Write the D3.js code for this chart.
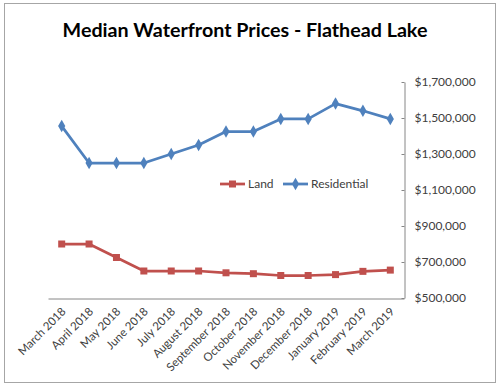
<!DOCTYPE html>
<html>
<head>
<meta charset="utf-8">
<script src="https://cdn.jsdelivr.net/npm/d3@7"></script>
<style>
  body { margin: 0; background: #fff; }
  text { font-family: Lato, "Open Sans", sans-serif; }
</style>
</head>
<body>
<script>
// months on the x axis
var months = ["March 2018", "April 2018", "May 2018", "June 2018", "July 2018",
  "August 2018", "September 2018", "October 2018", "November 2018",
  "December 2018", "January 2019", "February 2019", "March 2019"];

// median prices
var land = [800000, 800000, 725000, 650000, 650000, 650000, 640000,
  635000, 625000, 625000, 630000, 648000, 655000];
var residential = [1455000, 1250000, 1250000, 1250000, 1300000, 1350000, 1425000,
  1425000, 1495000, 1495000, 1580000, 1540000, 1495000];

var yTicks = [500000, 700000, 900000, 1100000, 1300000, 1500000, 1700000];

var width = 502,
    height = 389;

var svg = d3.select("body").append("svg")
    .attr("width", width)
    .attr("height", height);

// chart frame
svg.append("rect")
    .attr("x", 4.5).attr("y", 3.5)
    .attr("width", 491).attr("height", 379)
    .attr("fill", "#fff")
    .attr("stroke", "#a6a6a6");

svg.append("text")
    .attr("x", 245).attr("y", 37)
    .attr("text-anchor", "middle")
    .style("font-size", "19.7px")
    .style("font-weight", "bold")
    .attr("fill", "#000")
    .text("Median Waterfront Prices - Flathead Lake");

var x = d3.scaleBand()
    .domain(months)
    .range([48, 404]);

var y = d3.scaleLinear()
    .domain([500000, 1700000])
    .range([298, 82]);

var fmt = function(d) { return "$" + d3.format(",")(d); };

// right value axis
var yAxis = svg.append("g")
    .attr("transform", "translate(404.5,0)")
    .call(d3.axisRight(y).tickValues(yTicks).tickFormat(fmt).tickSize(0).tickPadding(10));
yAxis.select(".domain").attr("stroke", "#868686");
yAxis.selectAll("text")
    .attr("fill", "#404040")
    .style("font-size", "12px");
yAxis.selectAll(".tick").append("line")
    .attr("x1", -3).attr("x2", 0)
    .attr("stroke", "#868686");

// bottom category axis
var xAxis = svg.append("g")
    .attr("transform", "translate(0,298.5)")
    .call(d3.axisBottom(x).tickSize(0).tickPadding(0));
xAxis.select(".domain").attr("stroke", "#868686");
xAxis.selectAll("text")
    .attr("fill", "#404040")
    .style("font-size", "11.5px")
    .attr("text-anchor", "end")
    .attr("dy", "0.35em")
    .attr("transform", "translate(2,11) rotate(-45)");

var line = d3.line()
    .x(function(d, i) { return x(months[i]) + x.bandwidth() / 2; })
    .y(function(d) { return y(d); });

var landColor = "#c0504d",
    resColor = "#4f81bd";

// Land series
svg.append("path")
    .datum(land)
    .attr("d", line)
    .attr("fill", "none")
    .attr("stroke", landColor)
    .attr("stroke-width", 2.75)
    .attr("stroke-linejoin", "round");
svg.selectAll(".land-pt")
    .data(land)
  .enter().append("rect")
    .attr("class", "land-pt")
    .attr("x", function(d, i) { return x(months[i]) + x.bandwidth() / 2 - 3.5; })
    .attr("y", function(d) { return y(d) - 3.5; })
    .attr("width", 7).attr("height", 7)
    .attr("fill", landColor);

// Residential series
svg.append("path")
    .datum(residential)
    .attr("d", line)
    .attr("fill", "none")
    .attr("stroke", resColor)
    .attr("stroke-width", 2.75)
    .attr("stroke-linejoin", "round");
var diamond = d3.symbol().type(d3.symbolDiamond).size(45);
svg.selectAll(".res-pt")
    .data(residential)
  .enter().append("path")
    .attr("class", "res-pt")
    .attr("d", diamond)
    .attr("transform", function(d, i) {
      return "translate(" + (x(months[i]) + x.bandwidth() / 2) + "," + y(d) + ")";
    })
    .attr("fill", resColor);

// legend
var legend = [
  { name: "Land", color: landColor, x0: 220 },
  { name: "Residential", color: resColor, x0: 283 }
];
var lg = svg.selectAll(".legend")
    .data(legend)
  .enter().append("g")
    .attr("class", "legend")
    .attr("transform", function(d) { return "translate(" + d.x0 + ",184)"; });
lg.append("line")
    .attr("x1", 0).attr("x2", 25)
    .attr("stroke", function(d) { return d.color; })
    .attr("stroke-width", 2.75);
lg.filter(function(d) { return d.name === "Land"; }).append("rect")
    .attr("x", 9).attr("y", -3.5).attr("width", 7).attr("height", 7)
    .attr("fill", landColor);
lg.filter(function(d) { return d.name === "Residential"; }).append("path")
    .attr("d", diamond)
    .attr("transform", "translate(12.5,0)")
    .attr("fill", resColor);
lg.append("text")
    .attr("x", 28)
    .attr("dy", "0.35em")
    .attr("fill", "#404040")
    .style("font-size", "12px")
    .text(function(d) { return d.name; });
</script>
</body>
</html>
